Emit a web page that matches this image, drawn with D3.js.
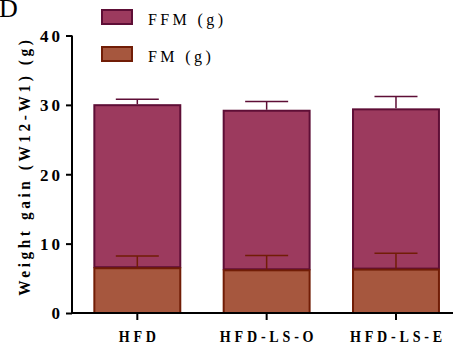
<!DOCTYPE html>
<html><head><meta charset="utf-8">
<script src="https://cdn.jsdelivr.net/npm/d3@7"></script>
<style>body{margin:0;background:#fff}svg{display:block}</style>
</head><body>
<script>
const categories = ["HFD", "HFD-LS-O", "HFD-LS-E"];
const fmValues = [6.6, 6.3, 6.4];
const fmErrors = [1.6, 2.0, 2.2];
const ffmValues = [23.5, 23.0, 23.1];
const ffmErrors = [0.7, 1.2, 1.7];
const yTicks = [0, 10, 20, 30, 40];
const seriesNames = ["FFM (g)", "FM (g)"];

const W = 455, H = 351;
const ffmFill = "#9c3a5e", ffmStroke = "#5e0e36";
const fmFill = "#a6573e", fmStroke = "#711d06";
const serif = "Liberation Serif";

const svg = d3.select("body").append("svg").attr("width", W).attr("height", H);

const y = d3.scaleLinear().domain([0, 40]).range([313, 35.5]);
const x = d3.scaleBand().domain(categories).range([72, 461.3]).paddingInner(0.32).paddingOuter(0.165);

const g = svg.append("g");
categories.forEach((c, i) => {
  const x0 = x(c), bw = x.bandwidth(), cx = x0 + bw / 2;
  const total = fmValues[i] + ffmValues[i];
  g.append("rect").attr("x", x0 + 1).attr("y", y(total) + 1)
    .attr("width", bw - 2).attr("height", y(fmValues[i]) - y(total) - 1)
    .attr("fill", ffmFill).attr("stroke", ffmStroke).attr("stroke-width", 2);
  g.append("rect").attr("x", x0 + 1).attr("y", y(fmValues[i]) + 1)
    .attr("width", bw - 2).attr("height", y(0) - y(fmValues[i]) - 1)
    .attr("fill", fmFill).attr("stroke", fmStroke).attr("stroke-width", 2);
  const cap = 21.5;
  const eFFM = y(total + ffmErrors[i]);
  g.append("line").attr("x1", cx).attr("x2", cx).attr("y1", y(total)).attr("y2", eFFM)
    .attr("stroke", ffmStroke).attr("stroke-width", 1.5);
  g.append("line").attr("x1", cx - cap).attr("x2", cx + cap).attr("y1", eFFM).attr("y2", eFFM)
    .attr("stroke", ffmStroke).attr("stroke-width", 1.5);
  const eFM = y(fmValues[i] + fmErrors[i]);
  g.append("line").attr("x1", cx).attr("x2", cx).attr("y1", y(fmValues[i])).attr("y2", eFM)
    .attr("stroke", fmStroke).attr("stroke-width", 1.5);
  g.append("line").attr("x1", cx - cap).attr("x2", cx + cap).attr("y1", eFM).attr("y2", eFM)
    .attr("stroke", fmStroke).attr("stroke-width", 1.5);
});

const yAxis = svg.append("g").attr("transform", "translate(72,0)")
  .call(d3.axisLeft(y).tickValues(yTicks).tickSize(6).tickPadding(3).tickFormat(d3.format("d")));
yAxis.attr("font-family", serif);
yAxis.select(".domain").attr("stroke", "#000").attr("stroke-width", 2).attr("d", `M0,${y(40)}V${y(0)+1}`);
yAxis.selectAll(".tick line").attr("stroke", "#000").attr("stroke-width", 2);
yAxis.selectAll(".tick text").attr("font-family", serif).attr("font-weight", "bold")
  .attr("font-size", 17).attr("letter-spacing", 3).attr("fill", "#000").attr("dy", "0.34em");

const xAxis = svg.append("g").attr("transform", `translate(0,${y(0)})`)
  .call(d3.axisBottom(x).tickSize(7).tickPadding(11));
xAxis.attr("font-family", serif);
xAxis.select(".domain").attr("stroke", "#000").attr("stroke-width", 2).attr("d", "M71,0H453");
xAxis.selectAll(".tick line").attr("stroke", "#000").attr("stroke-width", 2);
xAxis.selectAll(".tick text").attr("font-family", serif).attr("font-weight", "bold")
  .attr("font-size", 16).attr("letter-spacing", 4.3).attr("dx", 2.2).attr("fill", "#000")
  .attr("transform", "scale(0.88,1)");

svg.append("text").attr("transform", "translate(30,168) rotate(-90) scale(0.9,1)")
  .attr("text-anchor", "middle").attr("dx", 2).attr("font-family", serif).attr("font-weight", "bold")
  .attr("font-size", 17).attr("letter-spacing", 4).text("Weight gain (W12-W1) (g)");

svg.append("text").attr("x", -1).attr("y", 17).attr("font-family", serif)
  .attr("font-size", 26).text("D");

const legFills = [ffmFill, fmFill], legStrokes = [ffmStroke, fmStroke];
seriesNames.forEach((n, i) => {
  const ly = 10 + i * 37;
  svg.append("rect").attr("x", 102).attr("y", ly).attr("width", 30).attr("height", 14)
    .attr("fill", legFills[i]).attr("stroke", legStrokes[i]).attr("stroke-width", 2);
  svg.append("text").attr("x", 148).attr("y", ly + 15).attr("font-family", serif)
    .attr("font-size", 16).attr("letter-spacing", 3.4).text(n);
});
</script>
</body></html>
